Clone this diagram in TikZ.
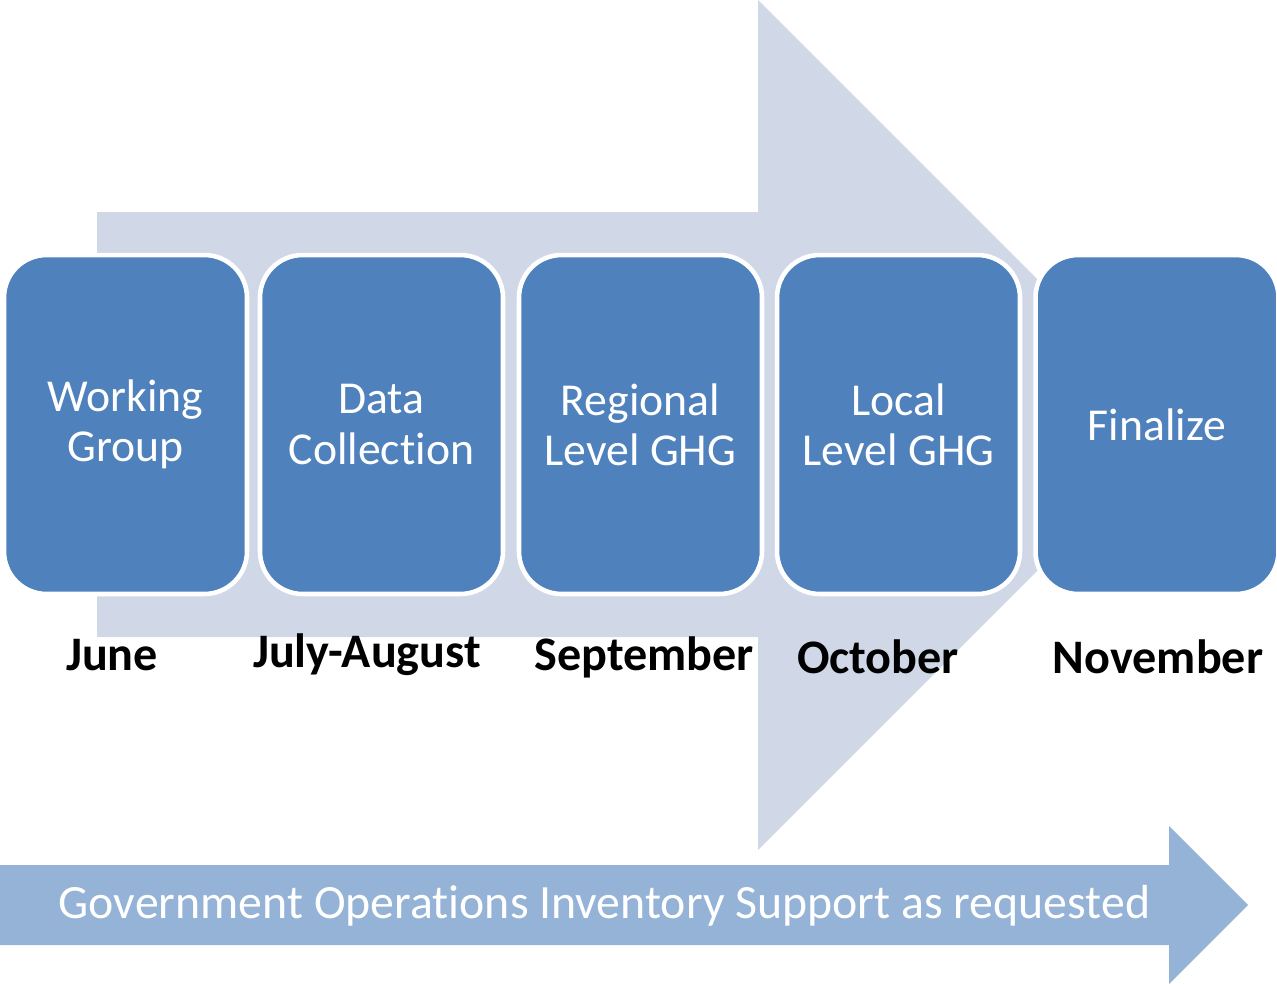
\documentclass[tikz,border=0pt]{standalone}
\usepackage{fontspec}
\setmainfont{Carlito}[Ligatures=NoCommon]
\usepackage{tikz}
\usepackage{xcolor}
\usetikzlibrary{calc}
\usetikzlibrary{positioning}

\definecolor{arrowgrey}{HTML}{D0D8E8}
\definecolor{stageblue}{HTML}{4F81BD}
\definecolor{supportblue}{HTML}{95B3D7}

\tikzset{
  stage/.style={fill=stageblue, draw=white, line width=2.6pt, rounded corners=0.85cm,
    minimum width=4.86cm, minimum height=6.78cm, text=white, align=center,
    font=\fontsize{26}{28.5}\selectfont},
  month/.style={text=black, font=\fontsize{27.4}{29}\selectfont\bfseries},
}

\begin{document}
\begin{tikzpicture}[x=0.02cm, y=-0.02cm]
\useasboundingbox (0,0) rectangle (1277,984);

% big process arrow
\fill[arrowgrey] (97,212) -- (758,212) -- (758,0) -- (1183,425) -- (758,850)
  -- (758,637) -- (97,637) -- cycle;

\node[stage] (wg) at (125.5,424.5) {Working\\Group};
\node[stage] (dc) at (381.5,424.5) {Data\\Collection};
\node[stage] (rl) at (640.5,424.5) {Regional\\Level GHG};
\node[stage] (ll) at (898.5,424.5) {Local\\Level GHG};
\node[stage] (fin) at (1157,424.5) {Finalize};

\node[month] (jun) at (112,655) {June};
\node[month] (jul) at (367,655) {July-August};
\node[month] (sep) at (644,657) {September};
\node[month] (oct) at (878,657) {October};
\node[month] (nov) at (1158,657) {November};

% support arrow
\fill[supportblue] (0,865) -- (1169,865) -- (1169,826) -- (1248,905) -- (1169,984)
  -- (1169,945) -- (0,945) -- cycle;
\node[text=white, font=\fontsize{27.2}{29}\selectfont] (gov) at (604.5,906)
  {Government Operations Inventory Support as requested};

\end{tikzpicture}
\end{document}
